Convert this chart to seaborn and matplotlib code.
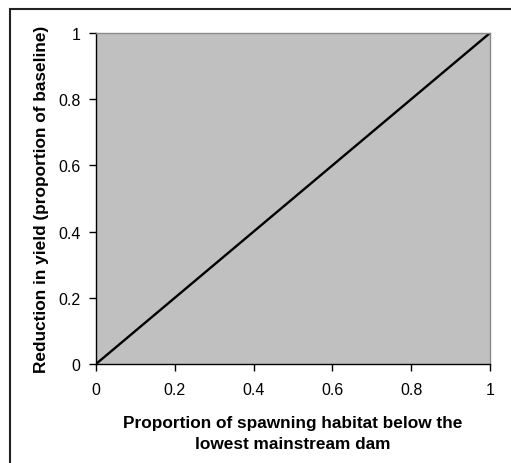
import matplotlib
matplotlib.use('Agg')
import matplotlib.pyplot as plt
import seaborn as sns
import pandas as pd
from matplotlib.patches import Rectangle

# data: yield reduction rises 1:1 with habitat share below the dam
habitat_below = [0, 1]
yield_reduction = [0, 1]
ticks = [0, 0.2, 0.4, 0.6, 0.8, 1]
tick_labels = ['0', '0.2', '0.4', '0.6', '0.8', '1']

df = pd.DataFrame({'habitat': habitat_below, 'reduction': yield_reduction})

sns.set_style('white')
plt.rcParams['font.family'] = ['Liberation Sans', 'DejaVu Sans']
plt.rcParams['text.color'] = 'black'
plt.rcParams['axes.labelcolor'] = 'black'
plt.rcParams['xtick.color'] = 'black'
plt.rcParams['ytick.color'] = 'black'

fig = plt.figure(figsize=(5.11, 4.64), dpi=100)
ax = fig.add_axes([96 / 511, 1 - 365 / 464, 394 / 511, 331 / 464])
ax.set_facecolor('#C0C0C0')

sns.lineplot(data=df, x='habitat', y='reduction', color='black', linewidth=1.7, ax=ax)

ax.set_xlim(0, 1)
ax.set_ylim(0, 1)
ax.set_xticks(ticks)
ax.set_xticklabels(tick_labels)
ax.set_yticks(ticks)
ax.set_yticklabels(tick_labels)
ax.tick_params(axis='both', direction='out', length=5, width=1, color='black',
               labelcolor='black', labelsize=11.5, bottom=True, left=True)
ax.tick_params(axis='x', pad=8)
ax.tick_params(axis='y', pad=6)

for side in ['left', 'bottom']:
    ax.spines[side].set_color('black')
    ax.spines[side].set_linewidth(1)
for side in ['top', 'right']:
    ax.spines[side].set_color('#8a8a8a')
    ax.spines[side].set_linewidth(1)

ax.set_xlabel('Proportion of spawning habitat below the\nlowest mainstream dam',
              fontsize=12.4, fontweight='bold', labelpad=13, linespacing=1.45)
ax.set_ylabel('Reduction in yield (proportion of baseline)',
              fontsize=12.4, fontweight='bold', labelpad=7)

# outer frame around the chart area
fig.patches.append(Rectangle((10 / 511, -0.1), 1.1, 1 - 10 / 464 + 0.1,
                             transform=fig.transFigure, fill=False,
                             edgecolor='#222222', linewidth=1.5))

fig.savefig('out.png', dpi=100)
